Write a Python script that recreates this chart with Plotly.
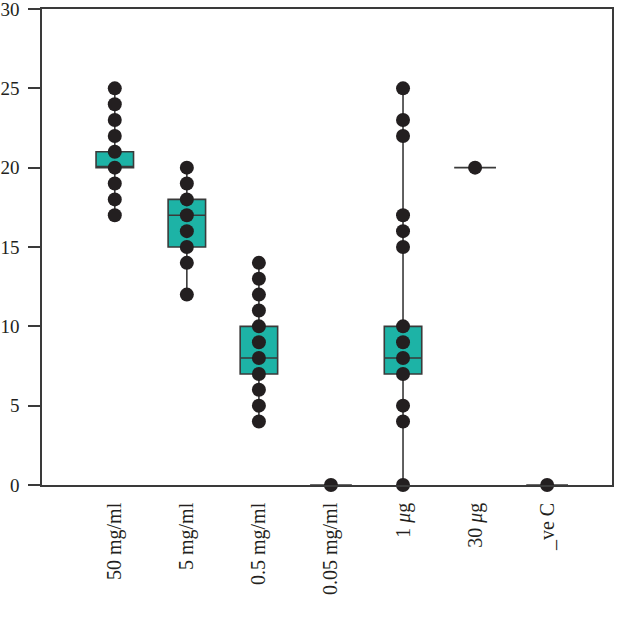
import plotly.graph_objects as go

categories = ["50 mg/ml", "5 mg/ml", "0.5 mg/ml", "0.05 mg/ml",
              "1 <i>μ</i>g", "30 <i>μ</i>g", "_ve C"]

points = [
    [17, 18, 19, 20, 21, 22, 23, 24, 25],
    [12, 14, 15, 16, 17, 18, 19, 20],
    [4, 5, 6, 7, 8, 9, 10, 11, 12, 13, 14],
    [0],
    [0, 4, 5, 7, 8, 9, 10, 15, 16, 17, 22, 23, 25],
    [20],
    [0],
]

q1 = [20, 15, 7, 0, 7, 20, 0]
median = [20, 17, 8, 0, 8, 20, 0]
q3 = [21, 18, 10, 0, 10, 20, 0]
low = [17, 12, 4, 0, 0, 20, 0]
high = [25, 20, 14, 0, 25, 20, 0]

BOX_FILL = "#1db3a6"
LINE = "#3a3a3a"
DOT = "#231f20"
FONT = "Liberation Serif"

fig = go.Figure()
for i in range(len(categories)):
    single = q1[i] == q3[i]
    fig.add_trace(go.Box(
        x=[i], q1=[q1[i]], median=[median[i]], q3=[q3[i]],
        lowerfence=[low[i]], upperfence=[high[i]],
        width=0.58 if single else 0.52,
        whiskerwidth=0,
        fillcolor=BOX_FILL,
        line=dict(color=LINE, width=1.6),
        boxpoints=False,
        showlegend=False,
        hoverinfo="skip",
    ))
    fig.add_trace(go.Scatter(
        x=[i] * len(points[i]), y=points[i], mode="markers",
        marker=dict(size=14, color=DOT),
        cliponaxis=False, showlegend=False,
    ))

fig.update_layout(
    width=620, height=622,
    margin=dict(l=42, r=8, t=9, b=137),
    paper_bgcolor="white", plot_bgcolor="white",
    font=dict(family=FONT, size=19, color="#231f20"),
    boxmode="overlay",
)
fig.update_xaxes(
    range=[-1.01, 6.9], automargin=False,
    tickmode="array", tickvals=list(range(len(categories))), ticktext=categories,
    tickangle=-90, ticks="", showgrid=False, zeroline=False,
    showline=True, linecolor=LINE, linewidth=1.6, mirror=True,
    ticklabelstandoff=8, tickfont=dict(size=20),
)
fig.update_yaxes(
    range=[0, 30], tickvals=[0, 5, 10, 15, 20, 25, 30], automargin=False,
    ticks="outside", ticklen=12, tickwidth=1.6, tickcolor=LINE,
    showgrid=False, zeroline=False,
    showline=True, linecolor=LINE, linewidth=1.6, mirror=True,
    ticklabelstandoff=5, ticklabeloverflow="allow",
)

fig.write_html("out.html", config={"displayModeBar": False},
               post_script="document.body.style.margin='0';document.body.style.overflow='hidden';")
